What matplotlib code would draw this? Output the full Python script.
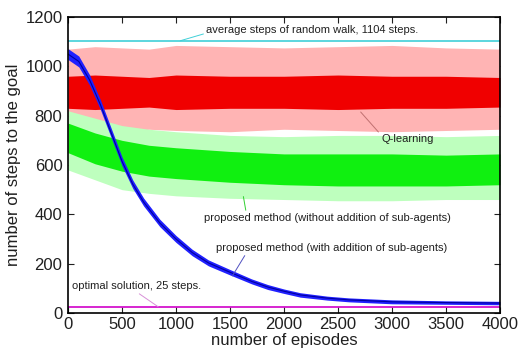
import numpy as np
import matplotlib
matplotlib.use("Agg")
import matplotlib.pyplot as plt

plt.rcParams["font.family"] = ["Liberation Sans", "DejaVu Sans"]

episodes = [0, 250, 500, 750, 1000, 1500, 2000, 2500, 3000, 3500, 4000]

# Q-learning (red): outer spikes and dense core
q_outer_hi = [1070, 1080, 1075, 1070, 1085, 1080, 1075, 1080, 1085, 1075, 1070]
q_outer_lo = [745, 740, 735, 745, 740, 735, 745, 740, 735, 740, 745]
q_core_hi = [960, 965, 960, 955, 965, 960, 960, 965, 960, 960, 955]
q_core_lo = [830, 825, 830, 835, 825, 830, 830, 825, 830, 830, 835]

# proposed method without addition of sub-agents (green)
g_outer_hi = [820, 790, 760, 745, 735, 720, 715, 720, 720, 715, 720]
g_outer_lo = [580, 540, 500, 485, 475, 465, 460, 455, 455, 460, 460]
g_core_hi = [770, 730, 700, 680, 670, 655, 645, 645, 645, 640, 645]
g_core_lo = [650, 605, 575, 555, 545, 530, 520, 515, 515, 515, 520]

# proposed method with addition of sub-agents (blue)
b_episodes = [0, 100, 200, 300, 400, 500, 600, 700, 850, 1000, 1150, 1300, 1500,
              1700, 1850, 2000, 2150, 2400, 2600, 3000, 3500, 4000]
b_mean = [1050, 1020, 945, 845, 730, 615, 522, 450, 365, 300, 245, 203, 165,
          128, 105, 88, 73, 60, 53, 45, 42, 40]
b_half = [22, 22, 21, 20, 19, 18, 17, 16, 15, 14, 13, 12, 11, 10, 10, 9, 9, 8, 8, 8, 7, 7]

random_walk = 1104
optimal = 25

fig = plt.figure(figsize=(5.23, 3.56), dpi=100)
ax = fig.add_axes([0.130, 0.121, 0.826, 0.831])

ax.fill_between(episodes, q_outer_lo, q_outer_hi, color="#ffb4b4", lw=0, zorder=2)
ax.fill_between(episodes, q_core_lo, q_core_hi, color="#f00000", lw=0, zorder=3)

ax.fill_between(episodes, g_outer_lo, g_outer_hi, color="#beffbe", lw=0, zorder=2)
ax.fill_between(episodes, g_core_lo, g_core_hi, color="#10f010", lw=0, zorder=3)

b_mean = np.array(b_mean, dtype=float)
b_half = np.array(b_half, dtype=float)
ax.fill_between(b_episodes, b_mean - b_half, b_mean + b_half, color="#2020ff", lw=0, zorder=4)
ax.plot(b_episodes, b_mean, color="#0000a0", lw=0.8, zorder=5)

ax.axhline(random_walk, color="#40d0d8", lw=1.2, zorder=6)
ax.axhline(optimal, color="#d000c8", lw=1.2, zorder=6)

note = dict(fontsize=8, color="#202020", zorder=8)
ax.annotate("average steps of random walk, 1104 steps.", xy=(1040, random_walk),
            xytext=(1280, 1147), ha="left", va="center",
            arrowprops=dict(arrowstyle="-", color="#40d0d8", lw=0.7,
                            shrinkA=0, shrinkB=0, relpos=(0, 0.2)), **note)
ax.annotate("Q-learning", xy=(2710, 815), xytext=(2900, 705), ha="left", va="center",
            arrowprops=dict(arrowstyle="-", color="#c07070", lw=0.7,
                            shrinkA=0, shrinkB=0, relpos=(0, 0.9)), **note)
ax.annotate("proposed method (without addition of sub-agents)", xy=(1624, 472),
            xytext=(1262, 385), ha="left", va="center",
            arrowprops=dict(arrowstyle="-", color="#30d030", lw=0.7,
                            shrinkA=0, shrinkB=0, relpos=(0.17, 1)), **note)
ax.annotate("proposed method (with addition of sub-agents)", xy=(1522, 150),
            xytext=(1374, 264), ha="left", va="center",
            arrowprops=dict(arrowstyle="-", color="#5050c0", lw=0.7,
                            shrinkA=0, shrinkB=0, relpos=(0.13, 0)), **note)
ax.annotate("optimal solution, 25 steps.", xy=(835, optimal), xytext=(37, 109),
            ha="left", va="center",
            arrowprops=dict(arrowstyle="-", color="#d890d8", lw=0.7,
                            shrinkA=0, shrinkB=0, relpos=(0.49, 0)), **note)

ax.set_xlim(0, 4000)
ax.set_ylim(0, 1200)
ax.set_xticks(np.arange(0, 4001, 500))
ax.set_yticks(np.arange(0, 1201, 200))
ax.tick_params(direction="in", top=True, right=True, length=4, width=0.8,
               labelsize=12, colors="#202020")
ax.tick_params(axis="x", pad=3)
ax.tick_params(axis="y", pad=4)
for s in ax.spines.values():
    s.set_linewidth(1.2)
    s.set_zorder(10)

ax.set_xlabel("number of episodes", fontsize=12, color="#202020", labelpad=1)
ax.set_ylabel("number of steps to the goal", fontsize=12, color="#202020", labelpad=3)

fig.savefig("out.png", dpi=100, facecolor="white")
